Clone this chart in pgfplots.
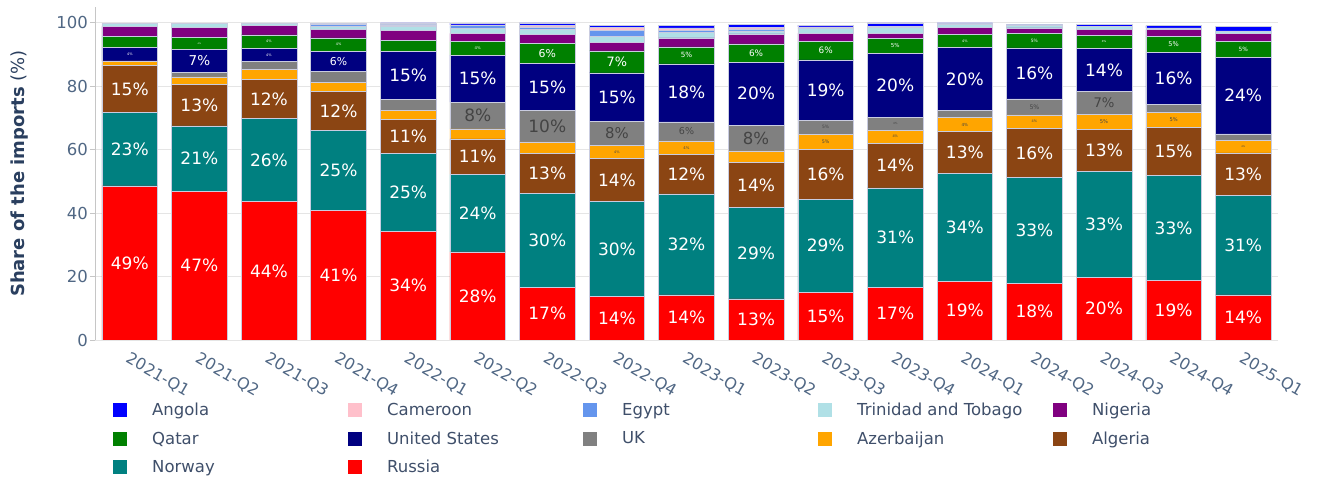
\documentclass[border=0pt]{standalone}
\usepackage{fontspec}
\setmainfont{DejaVu Sans}
\usepackage{pgfplots}
\usepackage{pgfplotstable}
\pgfplotsset{compat=1.18}

\definecolor{cRussia}{HTML}{FF0000}
\definecolor{cNorway}{HTML}{008080}
\definecolor{cAlgeria}{HTML}{8B4513}
\definecolor{cAzerbaijan}{HTML}{FFA500}
\definecolor{cUK}{HTML}{808080}
\definecolor{cUS}{HTML}{000080}
\definecolor{cQatar}{HTML}{008000}
\definecolor{cNigeria}{HTML}{800080}
\definecolor{cTrinidad}{HTML}{B0E0E6}
\definecolor{cEgypt}{HTML}{6495ED}
\definecolor{cCameroon}{HTML}{FFC0CB}
\definecolor{cAngola}{HTML}{0000FF}
\definecolor{tickcol}{HTML}{506784}
\definecolor{titlecol}{HTML}{2A3F5F}
\definecolor{legcol}{HTML}{3F4F6A}
\definecolor{darklbl}{HTML}{444444}
\definecolor{edgecol}{HTML}{C9CCE0}

\pgfplotstableread{
idx Russia Norway Algeria Azerbaijan UK US Qatar Nigeria Trinidad Egypt Cameroon Angola
0 48.6 23.1 15.0 1.3 0.0 4.2 3.5 3.2 0.9 0.0 0.0 0.0
1 46.8 20.7 13.2 2.3 1.4 7.2 3.8 3.2 1.2 0.0 0.0 0.0
2 43.6 26.2 12.3 3.2 2.5 4.2 4.2 3.0 0.8 0.0 0.0 0.0
3 40.8 25.4 12.1 2.9 3.5 6.4 4.2 2.7 0.8 0.7 0.0 0.3
4 34.2 24.6 10.8 2.9 3.4 15.0 3.5 3.2 1.2 0.6 0.2 0.4
5 27.8 24.4 11.2 3.2 8.4 14.8 4.3 2.6 1.6 0.8 0.3 0.5
6 16.6 29.6 12.6 3.7 9.9 14.8 6.4 2.8 1.5 0.8 0.5 0.8
7 13.7 29.9 13.6 4.2 7.6 15.2 7.0 2.6 1.9 2.0 0.8 0.6
8 14.2 31.9 12.4 4.3 6.0 18.3 5.3 2.9 1.6 0.8 0.7 0.8
9 13.0 28.7 14.2 3.7 8.1 19.9 5.8 3.1 1.0 0.6 0.5 0.9
10 15.0 29.4 15.8 4.6 4.5 19.0 5.8 2.6 1.5 0.3 0.2 0.6
11 16.6 31.4 14.0 4.2 4.0 20.2 4.8 1.6 1.8 0.3 0.0 1.1
12 18.6 33.9 13.2 4.4 2.4 19.7 4.2 2.1 1.0 0.2 0.0 0.3
13 17.8 33.4 15.6 4.2 5.0 16.1 4.5 1.8 0.8 0.2 0.0 0.2
14 19.8 33.4 13.3 4.7 7.1 13.7 4.0 1.9 1.1 0.0 0.0 0.5
15 18.7 33.2 15.1 4.7 2.7 16.3 5.1 2.1 0.5 0.0 0.0 0.7
16 14.2 31.4 13.4 3.9 2.1 24.2 4.9 2.6 0.8 0.0 0.0 1.4
}\datatable

\pgfplotsset{
  /pgf/number format/assume math mode=true,
  basegeom/.style={
    at={(95bp,137bp)}, anchor=south west,
    scale only axis, width=1183bp, height=333bp,
    xmin=-0.5, xmax=16.5, ymin=0, ymax=105,
  },
}

\newcommand\LE[1]{\makebox[194bp][l]{#1}}

\newcommand\seglabeltext{%
  \pgfkeys{/pgf/fpu=false}%
  \pgfmathsetmacro\fs{min(17,(3.16*\segval-10)*17/16)}%
  \ifdim\fs pt<2pt\relax\else
    \fontsize{\fs bp}{\fs bp}\selectfont\pgfmathprintnumber[fixed,precision=0]{\segval}\%%
  \fi}

\newcommand\seglabel[3]{%
  \addplot[draw=none, mark=none,
    visualization depends on={\thisrow{#2}\as\segval},
    nodes near coords={\seglabeltext},
    every node near coord/.append style={text=#3, anchor=center, inner sep=0pt}]
    table[x=idx, y expr={#1 0.5*\thisrow{#2}}] {\datatable};
}

\begin{document}
\begin{tikzpicture}
\useasboundingbox (0,0) rectangle (1317bp,477bp);
\begin{axis}[
  basegeom,
  ybar stacked, bar width=0.8,
  axis lines*=left,
  axis line style={-},
  x axis line style={draw=none},
  y axis line style={draw=gray!45, line width=1bp},
  xtick={0,...,16},
  xticklabels={2021-Q1,2021-Q2,2021-Q3,2021-Q4,2022-Q1,2022-Q2,2022-Q3,2022-Q4,2023-Q1,2023-Q2,2023-Q3,2023-Q4,2024-Q1,2024-Q2,2024-Q3,2024-Q4,2025-Q1},
  xtick style={draw=none},
  ytick={0,20,40,60,80,100},
  ytick style={draw=gray!45, line width=1bp},
  tick align=outside, major tick length=5bp,
  ymajorgrids, major grid style={draw=gray!20, line width=1bp},
  xticklabel style={rotate=-30, anchor=north west, inner sep=1bp, xshift=3bp, yshift=-4bp,
    font=\fontsize{16bp}{16bp}\selectfont, text=tickcol},
  yticklabel style={font=\fontsize{16.5bp}{16.5bp}\selectfont, text=tickcol, inner sep=2bp},
  ylabel={\textbf{Share of the imports} (\%)},
  every axis y label/.style={at={(axis description cs:-0.0642,0.5)}, rotate=90, anchor=center,
    font=\fontsize{18bp}{18bp}\selectfont, text=titlecol},
  legend image code/.code={\fill[#1,draw=none] (0bp,-7bp) rectangle (14bp,7bp);},
  legend columns=5, reverse legend,
  legend style={at={(axis description cs:0.0152,-0.183)}, anchor=north west,
    draw=none, fill=none, inner sep=0pt, row sep=10.5bp,
    font=\fontsize{16.5bp}{16.5bp}\selectfont, text=legcol,
    /tikz/every odd column/.append style={column sep=23bp},
    cells={anchor=west}},
]
\addplot[fill=cRussia, draw=edgecol, line width=0.5bp] table[x=idx,y=Russia]{\datatable};
\addlegendentry{\LE{Russia}}
\addplot[fill=cNorway, draw=edgecol, line width=0.5bp] table[x=idx,y=Norway]{\datatable};
\addlegendentry{\LE{Norway}}
\addplot[fill=cAlgeria, draw=edgecol, line width=0.5bp] table[x=idx,y=Algeria]{\datatable};
\addlegendentry{\LE{Algeria}}
\addplot[fill=cAzerbaijan, draw=edgecol, line width=0.5bp] table[x=idx,y=Azerbaijan]{\datatable};
\addlegendentry{\LE{Azerbaijan}}
\addplot[fill=cUK, draw=edgecol, line width=0.5bp] table[x=idx,y=UK]{\datatable};
\addlegendentry{\LE{UK}}
\addplot[fill=cUS, draw=edgecol, line width=0.5bp] table[x=idx,y=US]{\datatable};
\addlegendentry{\LE{United States}}
\addplot[fill=cQatar, draw=edgecol, line width=0.5bp] table[x=idx,y=Qatar]{\datatable};
\addlegendentry{\LE{Qatar}}
\addplot[fill=cNigeria, draw=edgecol, line width=0.5bp] table[x=idx,y=Nigeria]{\datatable};
\addlegendentry{\LE{Nigeria}}
\addplot[fill=cTrinidad, draw=edgecol, line width=0.5bp] table[x=idx,y=Trinidad]{\datatable};
\addlegendentry{\LE{Trinidad and Tobago}}
\addplot[fill=cEgypt, draw=edgecol, line width=0.5bp] table[x=idx,y=Egypt]{\datatable};
\addlegendentry{\LE{Egypt}}
\addplot[fill=cCameroon, draw=edgecol, line width=0.5bp] table[x=idx,y=Cameroon]{\datatable};
\addlegendentry{\LE{Cameroon}}
\addplot[fill=cAngola, draw=edgecol, line width=0.5bp] table[x=idx,y=Angola]{\datatable};
\addlegendentry{\LE{Angola}}
\end{axis}

\begin{axis}[basegeom, hide axis, clip=false]
\seglabel{}{Russia}{white}
\seglabel{\thisrow{Russia}+}{Norway}{white}
\seglabel{\thisrow{Russia}+\thisrow{Norway}+}{Algeria}{white}
\seglabel{\thisrow{Russia}+\thisrow{Norway}+\thisrow{Algeria}+}{Azerbaijan}{darklbl}
\seglabel{\thisrow{Russia}+\thisrow{Norway}+\thisrow{Algeria}+\thisrow{Azerbaijan}+}{UK}{darklbl}
\seglabel{\thisrow{Russia}+\thisrow{Norway}+\thisrow{Algeria}+\thisrow{Azerbaijan}+\thisrow{UK}+}{US}{white}
\seglabel{\thisrow{Russia}+\thisrow{Norway}+\thisrow{Algeria}+\thisrow{Azerbaijan}+\thisrow{UK}+\thisrow{US}+}{Qatar}{white}
\seglabel{\thisrow{Russia}+\thisrow{Norway}+\thisrow{Algeria}+\thisrow{Azerbaijan}+\thisrow{UK}+\thisrow{US}+\thisrow{Qatar}+}{Nigeria}{white}
\end{axis}
\end{tikzpicture}
\end{document}
